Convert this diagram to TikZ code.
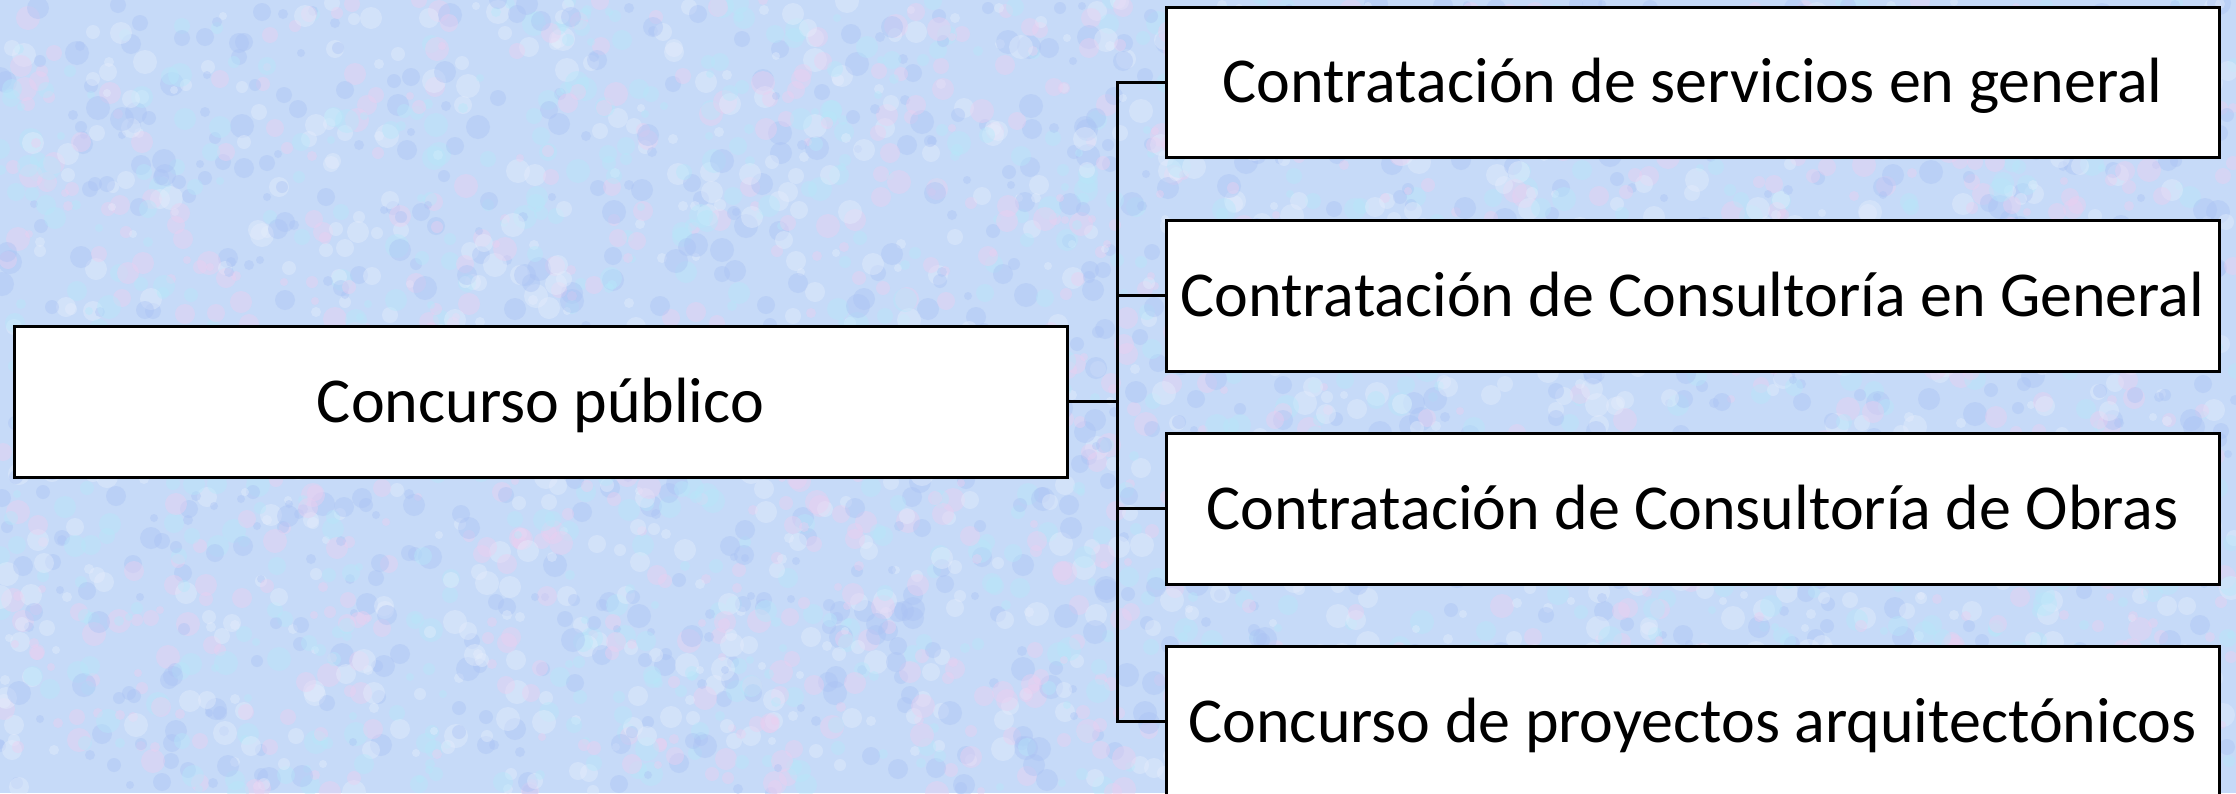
\documentclass[tikz,border=0pt]{standalone}
\usepackage{fontspec}
\setmainfont{Carlito}
\definecolor{bgbase}{RGB}{198,218,248}
\definecolor{tpink}{RGB}{236,206,240}
\definecolor{tcyan}{RGB}{182,232,250}
\definecolor{tblue}{RGB}{170,194,244}
\definecolor{twhite}{RGB}{230,238,252}
\begin{document}
\begin{tikzpicture}[x=1pt,y=-1pt,
  box/.style={draw=black, line width=3pt, fill=white, minimum width=1053pt, inner sep=0pt,
    text height=41pt, text depth=0pt, font=\fontsize{64}{76}\selectfont},
  conn/.style={draw=black, line width=3pt}]
\useasboundingbox (0,0) rectangle (2236,793);
\fill[bgbase] (0,0) rectangle (2236,793);
\pgfmathsetseed{11}
\begin{scope}
\clip (0,0) rectangle (2236,793);
\foreach \i in {1,...,4500}{
  \pgfmathsetmacro{\px}{random(0,2236)}
  \pgfmathsetmacro{\py}{random(0,793)}
  \pgfmathsetmacro{\pr}{random(4,12)}
  \pgfmathtruncatemacro{\pc}{random(1,4)}
  \ifcase\pc\or
    \fill[tpink, opacity=0.4] (\px,\py) circle (\pr);
  \or
    \fill[tcyan, opacity=0.4] (\px,\py) circle (\pr);
  \or
    \fill[tblue, opacity=0.4] (\px,\py) circle (\pr);
  \or
    \fill[twhite, opacity=0.4] (\px,\py) circle (\pr);
  \fi
}
\end{scope}
\node[box, minimum height=151pt] (L) at (540.5,401.5) {Concurso público};
\node[box, minimum height=150pt] (R1) at (1692.5,82) {Contratación de servicios en general};
\node[box, minimum height=151pt] (R2) at (1692.5,295.5) {Contratación de Consultoría en General};
\node[box, minimum height=151pt] (R3) at (1692.5,508.5) {Contratación de Consultoría de Obras};
\node[box, minimum height=151pt] (R4) at (1692.5,721.5) {Concurso de proyectos arquitectónicos};
\coordinate (J) at (1117,401.5);
\draw[conn] (L.east) -- (J);
\draw[conn, line cap=rect] (J |- R1.west) -- (J |- R4.west);
\foreach \r in {R1,R2,R3,R4}{
  \draw[conn] (J |- \r.west) -- (\r.west);
}
\end{tikzpicture}
\end{document}
